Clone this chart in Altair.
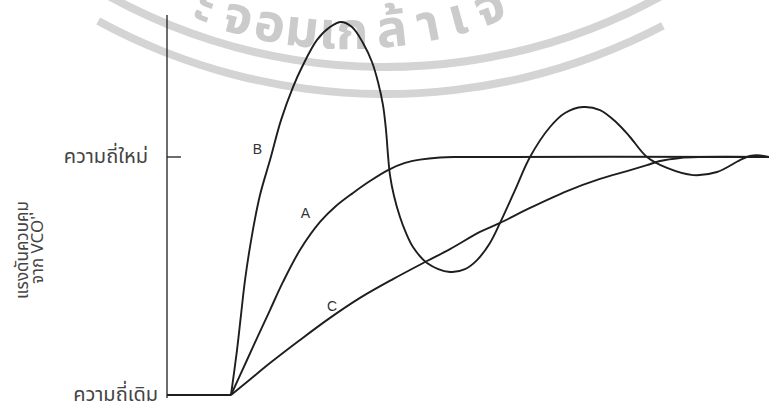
import altair as alt
import pandas as pd

# Time axis in arbitrary units (0..10); level 0 = old frequency, 1 = new frequency.
old_t = [0.0, 1.063]
old_v = [0.0, 0.0]

a_t = [1.063, 1.329, 1.512, 1.711, 1.927, 2.209, 2.542, 2.807, 3.090, 3.372, 3.671, 3.953,
       4.203, 4.535, 4.867, 10.0]
a_v = [0.0, 0.147, 0.248, 0.357, 0.475, 0.609, 0.727, 0.794, 0.849, 0.899, 0.945, 0.975,
       0.989, 0.998, 1.0, 1.0]

b_t = [1.063, 1.163, 1.229, 1.296, 1.412, 1.545, 1.711, 1.894, 2.093, 2.243, 2.492, 2.708, 2.890,
       3.073, 3.256, 3.405, 3.505, 3.588, 3.638, 3.671, 3.704, 3.771, 3.870, 3.970, 4.086, 4.319,
       4.701, 4.950, 5.150, 5.365, 5.532, 5.781, 6.030, 6.362, 6.611, 6.910, 7.193, 7.475, 7.691,
       7.973, 8.306, 8.738, 9.136, 9.518, 9.684, 9.801, 10.0]
b_v = [0.0, 0.189, 0.336, 0.483, 0.672, 0.840, 0.987, 1.155, 1.294, 1.378, 1.492, 1.546, 1.567,
       1.546, 1.479, 1.399, 1.315, 1.218, 1.113, 1.008, 0.924, 0.836, 0.748, 0.681, 0.622, 0.555,
       0.517, 0.529, 0.567, 0.639, 0.723, 0.861, 1.0, 1.126, 1.185, 1.210, 1.197, 1.143, 1.084,
       1.0, 0.954, 0.924, 0.937, 0.987, 1.004, 1.008, 1.0]

c_t = [1.063, 1.379, 1.711, 2.209, 2.708, 3.206, 3.754, 4.319, 4.701, 5.199, 5.532, 6.030, 6.645,
       7.193, 7.641, 7.973, 8.189, 8.522, 8.854, 10.0]
c_v = [0.0, 0.065, 0.134, 0.231, 0.324, 0.408, 0.487, 0.563, 0.613, 0.685, 0.723, 0.786, 0.857,
       0.908, 0.941, 0.966, 0.983, 0.996, 1.0, 1.0]

curve_names = ["A", "B", "C"]
label_t = [2.30, 1.50, 2.74]
label_v = [0.76, 1.03, 0.37]

level_values = [0, 1]
level_labels = ["ความถี่เดิม", "ความถี่ใหม่"]
title_lines = ["แรงดันควบคุม", "จาก VCO'"]

# Seal watermark: characters and their angular position (degrees from the bottom of the ring)
seal_chars = ["ะ", "จ", "อ", "ม", "เ", "ก", "ล้", "า", "เ", "จ"]
seal_deg = [-20.3, -15.4, -10.9, -6.4, -2.8, 0.6, 6.1, 11.2, 15.4, 20.1]

W, H = 602, 377
INK = "#1e1e1e"
WM = "#d4d4d4"
THAI = "Noto Sans Thai, Loma, Garuda, Norasi, sans-serif"

rows = []
for name, ts, vs in [("old", old_t, old_v), ("A", a_t, a_v), ("B", b_t, b_v), ("C", c_t, c_v)]:
    for i, (t, v) in enumerate(zip(ts, vs)):
        rows.append({"curve": name, "i": i, "t": t, "v": v})
curves = pd.DataFrame(rows)

xs = alt.Scale(domain=[0, 10], nice=False, zero=False)
ys = alt.Scale(domain=[0, 1.584], nice=False, zero=False)

lines = alt.Chart(curves).mark_line(
    color=INK, strokeWidth=1.9, interpolate="catmull-rom", clip=False
).encode(
    x=alt.X("t:Q", scale=xs, axis=None),
    y=alt.Y("v:Q", scale=ys, axis=None),
    detail="curve:N",
    order="i:Q",
)

axis_line = alt.Chart(pd.DataFrame({"k": [0]})).mark_rule(color=INK, strokeWidth=1.3).encode(
    x=alt.value(0), y=alt.value(-3), y2=alt.value(H + 3)
)

tick = alt.Chart(pd.DataFrame({"v": [1]})).mark_rule(color=INK, strokeWidth=1.3).encode(
    x=alt.value(0), x2=alt.value(14), y=alt.Y("v:Q", scale=ys, axis=None)
)

levels = pd.DataFrame({"v": level_values, "lab": level_labels, "dx": [-9, -19]})
level_text = alt.Chart(levels).mark_text(
    align="right", baseline="middle", font=THAI, fontSize=20, color="#444"
).encode(
    x=alt.X("dx:Q", scale=None),
    y=alt.Y("v:Q", scale=ys, axis=None),
    text="lab:N",
)

labels = pd.DataFrame({"name": curve_names, "t": label_t, "v": label_v})
label_text = alt.Chart(labels).mark_text(
    font="Liberation Sans", fontSize=14, color="#333", baseline="middle"
).encode(
    x=alt.X("t:Q", scale=xs, axis=None),
    y=alt.Y("v:Q", scale=ys, axis=None),
    text="name:N",
)

title_df = pd.DataFrame({"line": title_lines, "dx": [-144, -129]})
title_text = alt.Chart(title_df).mark_text(
    angle=270, font=THAI, fontSize=17, color="#444", baseline="middle", align="center"
).encode(
    x=alt.X("dx:Q", scale=None),
    y=alt.value(232),
    text="line:N",
)

main = alt.layer(lines, axis_line, tick, level_text, label_text, title_text)

# Watermark rings (centre above the chart, in pixels relative to the plot origin)
RCX, RCY = 218, -524
ring_df = pd.DataFrame({"k": [0]})
ring_outer = alt.Chart(ring_df).mark_arc(color=WM).encode(
    x=alt.value(RCX), y=alt.value(RCY),
    theta=alt.value(2.66), theta2=alt.value(3.64),
    radius=alt.value(604), radius2=alt.value(596),
)
ring_inner = alt.Chart(ring_df).mark_arc(color=WM).encode(
    x=alt.value(RCX), y=alt.value(RCY),
    theta=alt.value(2.55), theta2=alt.value(3.75),
    radius=alt.value(577), radius2=alt.value(569),
)

seal_df = pd.DataFrame({"ch": seal_chars, "deg": seal_deg})
seal_text = alt.Chart(seal_df).transform_calculate(
    px="181 + 413 * sin(datum.deg * PI / 180)",
    py="-398 + 413 * cos(datum.deg * PI / 180)",
    rot="(360 - datum.deg) % 360",
).mark_text(
    font=THAI, fontSize=52, fontWeight="bold", color="#cbcbcb", baseline="middle", align="center"
).encode(
    x=alt.X("px:Q", scale=None, axis=None),
    y=alt.Y("py:Q", scale=None, axis=None),
    angle=alt.Angle("rot:Q", scale=None),
    text="ch:N",
)

watermark = alt.layer(ring_outer, ring_inner, seal_text)

chart = alt.layer(watermark, main).resolve_scale(x="independent", y="independent").properties(
    width=W,
    height=H,
    padding={"left": 167, "top": 18, "right": 0, "bottom": 9},
    autosize="none",
    background="white",
).configure_view(stroke=None)

chart.save("out.html", embed_options={"renderer": "svg", "actions": False})
